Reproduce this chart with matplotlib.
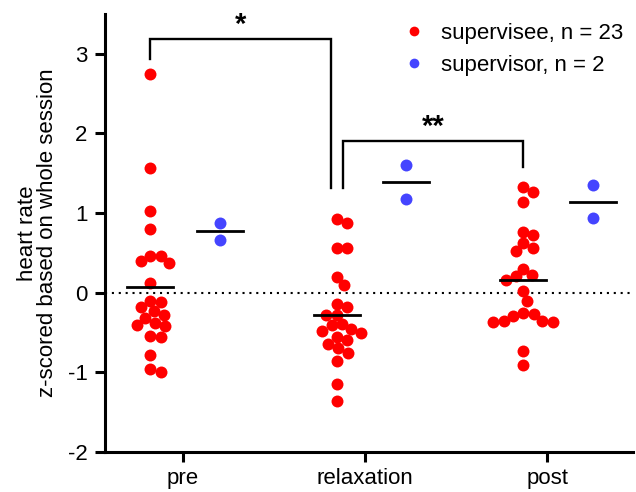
import numpy as np
import matplotlib
matplotlib.use('Agg')
import matplotlib.pyplot as plt
from matplotlib.lines import Line2D

plt.rcParams['font.family'] = ['Liberation Sans', 'DejaVu Sans']
plt.rcParams['axes.unicode_minus'] = False

# values
groups = ['pre', 'relaxation', 'post']
supervisee_pre = [2.75, 1.56, 1.03, 0.80, 0.46, 0.40, 0.37, 0.46, 0.12,
                  -0.11, -0.12, -0.18, -0.235, -0.285, -0.32, -0.38, -0.40,
                  -0.42, -0.54, -0.55, -0.78, -1.00, -0.96]
supervisee_relax = [0.93, 0.876, 0.565, 0.557, 0.20, 0.10, -0.14, -0.176,
                    -0.276, -0.28, -0.39, -0.41, -0.477, -0.46, -0.51, -0.557,
                    -0.595, -0.64, -0.70, -0.754, -0.854, -1.147, -1.357]
supervisee_post = [1.33, 1.265, 1.134, 0.766, 0.72, 0.624, 0.557, 0.524,
                   0.30, 0.222, 0.205, 0.163, 0.016, -0.11, -0.255, -0.29,
                   -0.27, -0.373, -0.36, -0.373, -0.35, -0.737, -0.913]
supervisor_pre = [0.88, 0.66]
supervisor_relax = [1.60, 1.18]
supervisor_post = [1.35, 0.94]
sig_labels = ['*', '**']

RED = '#ff0000'
BLUE = '#4444ff'
DOT = 8.6  # marker diameter in points
FS = 16

fig = plt.figure(figsize=(6.36, 4.92), dpi=100)
ax = fig.add_axes([105 / 636, 40 / 492, 528 / 636, 438 / 492])
ax.set_xlim(-0.4286, 2.472)
ax.set_ylim(-2, 3.5)


def swarm(ax, xc, vals, diam_pt, overlap=0.88):
    # simple greedy beeswarm in pixel space (points may overlap a little)
    d = diam_pt * fig.dpi / 72 * overlap
    tr = ax.transData
    pts = tr.transform(np.column_stack([np.full(len(vals), xc), vals]))
    order = np.argsort(vals)[::-1]
    placed = []
    out = pts.copy()
    for i in order:
        px, py = pts[i]
        for k in range(400):
            found = False
            for s in ([0] if k == 0 else [k, -k]):
                cx = px + s * 0.5
                if all((cx - qx) ** 2 + (py - qy) ** 2 >= d ** 2 for qx, qy in placed):
                    found = True
                    break
            if found:
                break
        placed.append((cx, py))
        out[i] = (cx, py)
    return tr.inverted().transform(out)


supervisee = [supervisee_pre, supervisee_relax, supervisee_post]
supervisor = [supervisor_pre, supervisor_relax, supervisor_post]
x_ee = [-0.181 + i * 1.025 for i in range(3)]
x_or = [x + 0.383 for x in x_ee]
half = 0.126

for i in range(3):
    xy = swarm(ax, x_ee[i], np.array(supervisee[i]), DOT)
    ax.plot(xy[:, 0], xy[:, 1], 'o', color=RED, markersize=DOT, mec='none', zorder=3)
    m = np.mean(supervisee[i])
    ax.plot([x_ee[i] - half, x_ee[i] + half], [m, m], color='black', lw=2.0, zorder=4)

    xy = swarm(ax, x_or[i], np.array(supervisor[i]), DOT)
    ax.plot(xy[:, 0], xy[:, 1], 'o', color=BLUE, markersize=DOT, mec='none', zorder=3)
    m = np.mean(supervisor[i])
    ax.plot([x_or[i] - half, x_or[i] + half], [m, m], color='black', lw=2.0, zorder=4)

ax.axhline(0, color='black', lw=1.5, ls=(0, (1, 2.3)), zorder=1)

# significance brackets
gap = 0.033
brackets = [
    (x_ee[0], x_ee[1] - gap, 3.19, 2.94, 1.31),
    (x_ee[1] + gap, x_ee[2], 1.91, 1.31, 1.58),
]
for (x1, x2, top, b1, b2), lab in zip(brackets, sig_labels):
    ax.plot([x1, x1, x2, x2], [b1, top, top, b2], color='black', lw=1.7,
            solid_joinstyle='miter', zorder=2)
    ax.text((x1 + x2) / 2, top + 0.0, lab, ha='center', va='bottom',
            fontsize=21, fontweight='bold')

ax.set_xticks(range(3))
ax.set_xticklabels(groups)
ax.set_yticks(range(-2, 4))
ax.tick_params(labelsize=FS, width=2.2, length=7.5, color='black')
ax.tick_params(axis='y', pad=5)
ax.tick_params(axis='x', pad=4)
for s in ['top', 'right']:
    ax.spines[s].set_visible(False)
for s in ['left', 'bottom']:
    ax.spines[s].set_linewidth(2.2)
ax.set_ylabel('heart rate\nz-scored based on whole session', fontsize=FS,
              linespacing=0.92, labelpad=7)

handles = [Line2D([], [], marker='o', ls='', color=RED, mec='none', markersize=7),
           Line2D([], [], marker='o', ls='', color=BLUE, mec='none', markersize=7)]
ax.legend(handles, ['supervisee, n = 23', 'supervisor, n = 2'], frameon=False,
          loc='upper left', bbox_to_anchor=(392 / 636, 1 - 12 / 492),
          bbox_transform=fig.transFigure, fontsize=FS, borderpad=0,
          handlelength=1.0, handletextpad=0.7, labelspacing=0.5)

fig.savefig('out.png', dpi=100)
